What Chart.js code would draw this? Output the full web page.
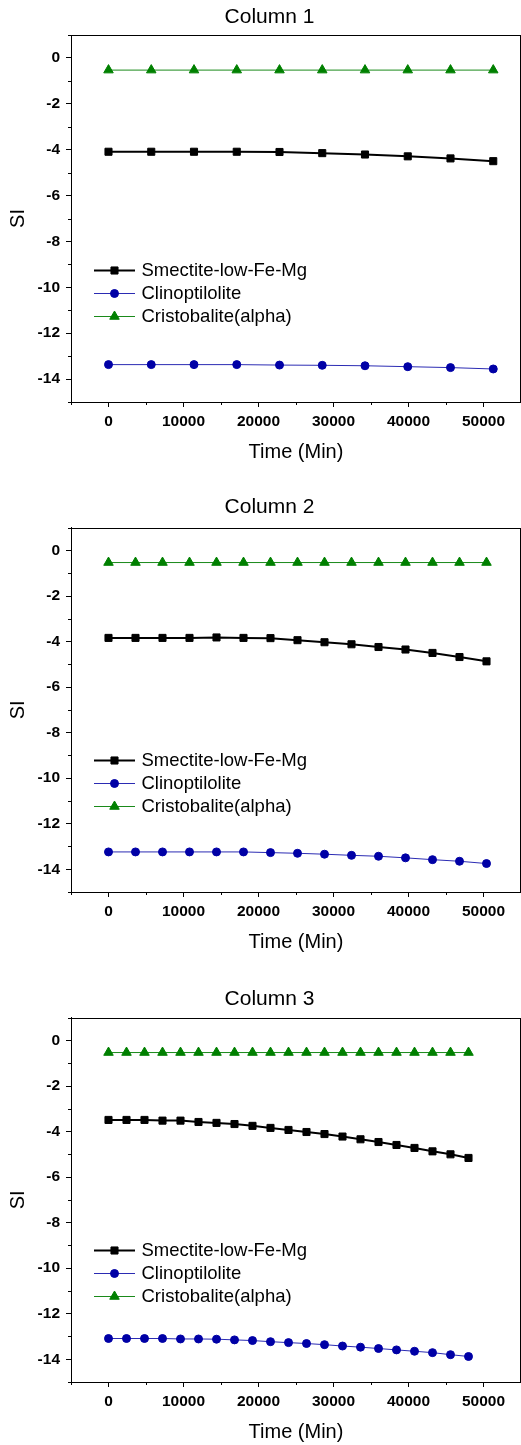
<!DOCTYPE html>
<html>
<head>
<meta charset="utf-8">
<title>SI vs Time</title>
<script src="https://cdn.jsdelivr.net/npm/chart.js@4.4.1/dist/chart.umd.min.js"></script>
<style>
  html, body { margin: 0; padding: 0; background: #fff; overflow: hidden; }
  .panel { position: absolute; left: 0; width: 521px; height: 490px; }
</style>
</head>
<body>
<div class="panel" style="top:0px"><canvas id="col1" width="521" height="490"></canvas></div>
<div class="panel" style="top:490px"><canvas id="col2" width="521" height="490"></canvas></div>
<div class="panel" style="top:980px"><canvas id="col3" width="521" height="490"></canvas></div>

<script>
// series names and axis ticks
const seriesNames = ["Smectite-low-Fe-Mg", "Clinoptilolite", "Cristobalite(alpha)"];
const yTicks = [0, -2, -4, -6, -8, -10, -12, -14];
const yMinorTicks = [1, -1, -3, -5, -7, -9, -11, -13, -15];
const xTicks = [0, 10000, 20000, 30000, 40000, 50000];
const xMinorTicks = [-5000, 5000, 15000, 25000, 35000, 45000, 55000];

// Column 1
const time1 = [0, 5700, 11400, 17100, 22800, 28500, 34200, 39900, 45600, 51300];
const smectite1 = [-4.09, -4.09, -4.09, -4.09, -4.10, -4.15, -4.21, -4.29, -4.38, -4.50];
const clino1 = [-13.37, -13.37, -13.37, -13.37, -13.39, -13.40, -13.42, -13.46, -13.50, -13.56];
const cristo1 = [-0.53, -0.53, -0.53, -0.53, -0.53, -0.53, -0.53, -0.53, -0.53, -0.53];

// Column 2
const time2 = [0, 3600, 7200, 10800, 14400, 18000, 21600, 25200, 28800, 32400, 36000, 39600, 43200, 46800, 50400];
const smectite2 = [-3.84, -3.84, -3.84, -3.84, -3.82, -3.84, -3.85, -3.94, -4.03, -4.12, -4.24, -4.35, -4.50, -4.68, -4.87];
const clino2 = [-13.24, -13.24, -13.24, -13.24, -13.24, -13.24, -13.27, -13.30, -13.34, -13.39, -13.43, -13.50, -13.58, -13.65, -13.75];
const cristo2 = [-0.53, -0.53, -0.53, -0.53, -0.53, -0.53, -0.53, -0.53, -0.53, -0.53, -0.53, -0.53, -0.53, -0.53, -0.53];

// Column 3
const time3 = [0, 2400, 4800, 7200, 9600, 12000, 14400, 16800, 19200, 21600, 24000, 26400, 28800, 31200, 33600, 36000, 38400, 40800, 43200, 45600, 48000];
const smectite3 = [-3.49, -3.49, -3.49, -3.52, -3.52, -3.58, -3.62, -3.67, -3.75, -3.84, -3.93, -4.02, -4.11, -4.22, -4.34, -4.46, -4.59, -4.72, -4.87, -5.00, -5.16];
const clino3 = [-13.09, -13.09, -13.09, -13.09, -13.11, -13.11, -13.12, -13.15, -13.18, -13.23, -13.27, -13.31, -13.36, -13.42, -13.47, -13.53, -13.59, -13.65, -13.71, -13.80, -13.88];
const cristo3 = [-0.53, -0.53, -0.53, -0.53, -0.53, -0.53, -0.53, -0.53, -0.53, -0.53, -0.53, -0.53, -0.53, -0.53, -0.53, -0.53, -0.53, -0.53, -0.53, -0.53, -0.53];

const FONT = "'Liberation Sans', Arial, Helvetica, sans-serif";
Chart.defaults.font.family = FONT;
Chart.defaults.color = "#000";

const pairs = (xs, ys) => xs.map((x, i) => ({ x: x, y: ys[i] }));

// panel title, frame around the plot, minor ticks and the line+marker legend
const framePlugin = {
  id: "frame",
  afterDraw(chart, args, opts) {
    const { ctx, chartArea: a, scales } = chart;
    ctx.save();

    ctx.fillStyle = "#000";
    ctx.font = "21px " + FONT;
    ctx.textAlign = "center";
    ctx.textBaseline = "middle";
    ctx.fillText(opts.title, 269.5, opts.titleY);

    ctx.strokeStyle = "#000";
    ctx.lineWidth = 1;
    ctx.strokeRect(Math.round(a.left) + 0.5, Math.round(a.top) + 0.5,
                   Math.round(a.right - a.left) - 1, Math.round(a.bottom - a.top));

    // minor ticks, pointing outwards
    ctx.beginPath();
    yMinorTicks.forEach(v => {
      const py = Math.round(scales.y.getPixelForValue(v)) + 0.5;
      ctx.moveTo(a.left, py); ctx.lineTo(a.left - 3, py);
    });
    xMinorTicks.forEach(v => {
      const px = Math.round(scales.x.getPixelForValue(v)) + 0.5;
      ctx.moveTo(px, a.bottom); ctx.lineTo(px, a.bottom + 3);
    });
    ctx.stroke();

    // legend
    const rowY = [a.bottom - 132.5, a.bottom - 109.3, a.bottom - 86];
    chart.data.datasets.forEach((ds, i) => {
      const y = Math.round(rowY[i]) + 0.5;
      ctx.strokeStyle = ds.borderColor;
      ctx.lineWidth = ds.borderWidth;
      ctx.beginPath();
      ctx.moveTo(94, y); ctx.lineTo(135, y);
      ctx.stroke();
      ctx.fillStyle = ds.pointBackgroundColor;
      ctx.strokeStyle = ds.pointBorderColor;
      ctx.lineWidth = 1;
      Chart.helpers.drawPoint(ctx, { pointStyle: ds.pointStyle, radius: ds.pointRadius, borderWidth: 1, rotation: 0 }, 114.5, y);
      ctx.fillStyle = "#000";
      ctx.font = "18.5px " + FONT;
      ctx.textBaseline = "middle";
      ctx.textAlign = "left";
      ctx.fillText(ds.label, 141.5, y);
    });
    ctx.restore();
  }
};

function makePanel(id, title, time, smectite, clino, cristo, titleY, plotTop) {
  return new Chart(document.getElementById(id), {
    type: "line",
    data: {
      datasets: [
        {
          label: seriesNames[0],
          data: pairs(time, smectite),
          borderColor: "#000",
          borderWidth: 2,
          pointStyle: "rect",
          pointRadius: 5,
          pointBackgroundColor: "#000",
          pointBorderColor: "#000",
          pointBorderWidth: 1
        },
        {
          label: seriesNames[1],
          data: pairs(time, clino),
          borderColor: "#2b2bb3",
          borderWidth: 1,
          pointStyle: "circle",
          pointRadius: 4,
          pointBackgroundColor: "#0000a6",
          pointBorderColor: "#0000a6",
          pointBorderWidth: 1
        },
        {
          label: seriesNames[2],
          data: pairs(time, cristo),
          borderColor: "#1a8a1a",
          borderWidth: 1,
          pointStyle: "triangle",
          pointRadius: 5.5,
          pointBackgroundColor: "#008000",
          pointBorderColor: "#008000",
          pointBorderWidth: 1
        }
      ]
    },
    options: {
      responsive: false,
      animation: false,
      events: [],
      layout: { autoPadding: false, padding: { left: 0, right: 0, top: plotTop, bottom: 0 } },
      plugins: {
        legend: { display: false },
        tooltip: { enabled: false },
        title: { display: false },
        frame: { title: title, titleY: titleY }
      },
      scales: {
        x: {
          type: "linear",
          min: -5000,
          max: 55000,
          afterBuildTicks: s => { s.ticks = xTicks.map(v => ({ value: v })); },
          afterFit: s => { s.height = 88; s.paddingLeft = 0; s.paddingRight = 0; },
          grid: { drawOnChartArea: false, drawTicks: true, tickLength: 5, tickColor: "#000", tickWidth: 1 },
          border: { display: true, color: "#000", width: 1 },
          ticks: {
            autoSkip: false,
            maxRotation: 0,
            padding: 5.5,
            color: "#000",
            font: { size: 15.5, weight: "bold", lineHeight: 1.2 },
            callback: v => String(v)
          },
          title: {
            display: true,
            text: "Time (Min)",
            color: "#000",
            font: { size: 20, lineHeight: 1.2 },
            padding: { top: 0, bottom: 26 }
          }
        },
        y: {
          type: "linear",
          min: -15,
          max: 1,
          afterBuildTicks: s => { s.ticks = yTicks.map(v => ({ value: v })); },
          afterFit: s => { s.width = 71; s.paddingTop = 0; s.paddingBottom = 0; },
          grid: { drawOnChartArea: false, drawTicks: true, tickLength: 5, tickColor: "#000", tickWidth: 1 },
          border: { display: true, color: "#000", width: 1 },
          ticks: {
            autoSkip: false,
            padding: 6,
            color: "#000",
            font: { size: 15.5, weight: "bold", lineHeight: 1.2 },
            callback: v => String(v)
          },
          title: {
            display: true,
            text: "SI",
            color: "#000",
            font: { size: 20, lineHeight: 1.2 },
            padding: { top: 6, bottom: 0 }
          }
        }
      }
    },
    plugins: [framePlugin]
  });
}

makePanel("col1", "Column 1", time1, smectite1, clino1, cristo1, 17, 35);
makePanel("col2", "Column 2", time2, smectite2, clino2, cristo2, 17, 37.7);
makePanel("col3", "Column 3", time3, smectite3, clino3, cristo3, 19, 37.7);
</script>
</body>
</html>
